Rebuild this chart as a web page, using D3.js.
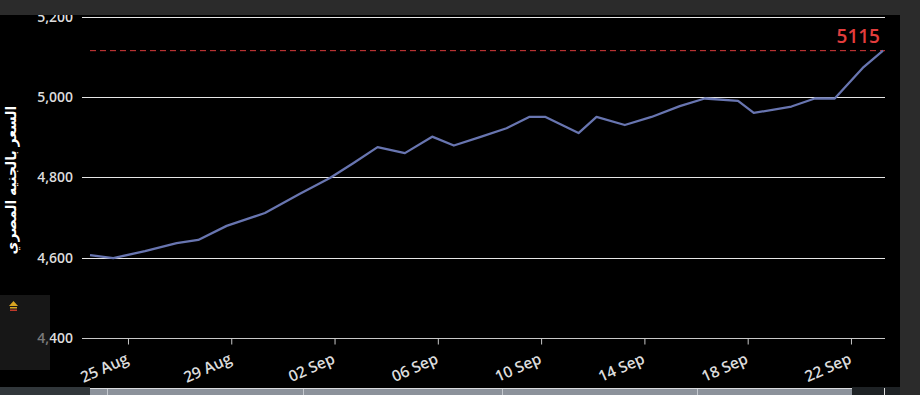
<!DOCTYPE html>
<html>
<head>
<meta charset="utf-8">
<script src="https://cdn.jsdelivr.net/npm/d3@7"></script>
<style>
  body { margin: 0; background: #000; overflow: hidden; }
  svg { display: block; font-family: "Open Sans", "DejaVu Sans", sans-serif; }
</style>
</head>
<body>
<svg id="chart" width="920" height="395"></svg>
<script>
// price samples (local time) and values, EGP
var dates = ["2025-08-23 12:42", "2025-08-24 10:20", "2025-08-25 15:48", "2025-08-26 21:15",
  "2025-08-27 17:20", "2025-08-28 19:42", "2025-08-30 07:18", "2025-08-31 15:49",
  "2025-09-01 19:41", "2025-09-02 17:20", "2025-09-03 16:00", "2025-09-04 17:23",
  "2025-09-05 18:45", "2025-09-06 14:54", "2025-09-07 15:04", "2025-09-08 15:52",
  "2025-09-09 12:52", "2025-09-10 04:06", "2025-09-11 10:46", "2025-09-12 03:30",
  "2025-09-13 05:47", "2025-09-14 06:36", "2025-09-15 08:53", "2025-09-16 08:07",
  "2025-09-17 15:04", "2025-09-18 05:40", "2025-09-19 16:40", "2025-09-20 14:20",
  "2025-09-21 08:54", "2025-09-22 10:55", "2025-09-23 05:47"];
var prices = [4606, 4599, 4616, 4636, 4644, 4679, 4711, 4759, 4798, 4835, 4875, 4860,
  4901, 4879, 4900, 4922, 4950, 4950, 4910, 4950, 4930, 4950, 4977, 4996,
  4990, 4960, 4976, 4996, 4996, 5072, 5115];
var xTickDates = ["2025-08-25", "2025-08-29", "2025-09-02", "2025-09-06",
  "2025-09-10", "2025-09-14", "2025-09-18", "2025-09-22"];
var yTicks = [4400, 4600, 4800, 5000, 5200];
var lastPrice = 5115;
var yTitle = "السعر بالجنيه المصري";

var parseT = d3.timeParse("%Y-%m-%d %H:%M");
var parseD = d3.timeParse("%Y-%m-%d");
var data = dates.map(function(d, i) { return { t: parseT(d), v: prices[i] }; });
var tickVals = xTickDates.map(parseD);

var svg = d3.select("#chart");
var gridL = 82, gridR = 885;

var x = d3.scaleTime()
  .domain(d3.extent(data, function(d) { return d.t; }))
  .range([90, 883]);
var y = d3.scaleLinear().domain([4400, 5200]).range([338, 16.5]);

// grid lines
svg.append("g").selectAll("line")
  .data(yTicks)
  .enter().append("line")
  .attr("x1", gridL).attr("x2", gridR)
  .attr("y1", function(d) { return Math.round(y(d)) + 0.5; })
  .attr("y2", function(d) { return Math.round(y(d)) + 0.5; })
  .attr("stroke", function(d) { return d == 4400 ? "#c8c8c8" : "#e6e6e6"; })
  .attr("stroke-width", 1);

// y labels
svg.append("g").selectAll("text")
  .data(yTicks)
  .enter().append("text")
  .attr("x", 73)
  .attr("y", function(d) { return y(d) + 5; })
  .attr("text-anchor", "end")
  .attr("fill", "#dcdcdc")
  .attr("font-size", 14)
  .attr("font-weight", 600)
  .text(d3.format(","));

// x axis ticks + labels
var xAxis = d3.axisBottom(x)
  .tickValues(tickVals)
  .tickSize(6)
  .tickFormat(d3.timeFormat("%d %b"));
var gx = svg.append("g")
  .attr("transform", "translate(0," + (Math.round(y(4400)) + 0.5) + ")")
  .call(xAxis);
gx.select(".domain").remove();
gx.selectAll(".tick line").attr("stroke", "#c8c8c8");
gx.selectAll(".tick text")
  .attr("fill", "#dcdcdc")
  .attr("font-size", 15.5)
  .attr("font-weight", 600)
  .attr("font-family", "Open Sans, sans-serif")
  .attr("text-anchor", "end")
  .attr("dy", null)
  .attr("y", 0)
  .attr("transform", "translate(1,24) rotate(-24)");

// last price reference line
svg.append("line")
  .attr("x1", 90).attr("x2", gridR)
  .attr("y1", y(lastPrice)).attr("y2", y(lastPrice))
  .attr("stroke", "#d93b3b")
  .attr("stroke-width", 1)
  .attr("stroke-dasharray", "6,4");
svg.append("text")
  .attr("x", 880).attr("y", y(lastPrice) - 8)
  .attr("text-anchor", "end")
  .attr("fill", "#e23d3d")
  .attr("font-size", 19)
  .attr("font-weight", 600)
  .text(lastPrice);

// price line
var line = d3.line()
  .x(function(d) { return x(d.t); })
  .y(function(d) { return y(d.v); });
svg.append("path")
  .datum(data)
  .attr("d", line)
  .attr("fill", "none")
  .attr("stroke", "#6875b0")
  .attr("stroke-width", 2.3)
  .attr("stroke-linejoin", "round");

// y title
svg.append("text")
  .attr("transform", "translate(16,180) rotate(-90)")
  .attr("text-anchor", "middle")
  .attr("fill", "#ffffff")
  .attr("font-size", 14)
  .attr("font-weight", 700)
  .attr("font-family", "Noto Sans, DejaVu Sans, sans-serif")
  .text(yTitle);

// page chrome around the chart
svg.append("rect").attr("x", 0).attr("y", 0).attr("width", 920).attr("height", 15).attr("fill", "#2b2b2b");
svg.append("rect").attr("x", 900).attr("y", 0).attr("width", 20).attr("height", 395).attr("fill", "#2b2b2b");

// side button box
svg.append("rect").attr("x", 0).attr("y", 295).attr("width", 50).attr("height", 75)
  .attr("fill", "#2a2a2a").attr("fill-opacity", 0.55);
svg.append("path").attr("d", "M9,306 L13.5,301 L18,306 Z").attr("fill", "#d9a521");
svg.append("rect").attr("x", 10).attr("y", 307).attr("width", 7).attr("height", 1.5).attr("fill", "#d9a521");
svg.append("rect").attr("x", 10).attr("y", 309.5).attr("width", 7).attr("height", 1.5).attr("fill", "#c0392b");

// bottom navigator strip
svg.append("rect").attr("x", 0).attr("y", 387).attr("width", 90).attr("height", 8).attr("fill", "#31373b");
svg.append("rect").attr("x", 90).attr("y", 388).attr("width", 762).attr("height", 7).attr("fill", "#8c929b");
svg.append("line").attr("x1", 90).attr("x2", 852).attr("y1", 388.5).attr("y2", 388.5).attr("stroke", "#d8dadd");
[107, 303, 502, 697].forEach(function(d) {
  svg.append("line").attr("x1", d + 0.5).attr("x2", d + 0.5).attr("y1", 389).attr("y2", 395).attr("stroke", "#c4c8ce");
});
svg.append("rect").attr("x", 852).attr("y", 387).attr("width", 48).attr("height", 8).attr("fill", "#1e2225");
svg.append("line").attr("x1", 884.5).attr("x2", 884.5).attr("y1", 388).attr("y2", 395).attr("stroke", "#e0e0e0");
</script>
</body>
</html>
